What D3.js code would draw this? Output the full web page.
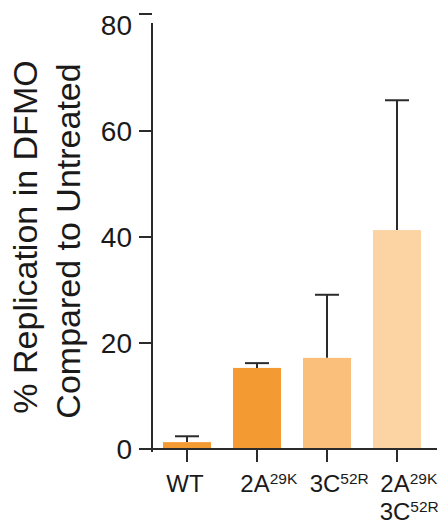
<!DOCTYPE html>
<html><head><meta charset="utf-8">
<script src="https://cdn.jsdelivr.net/npm/d3@7"></script>
<style>
html,body{margin:0;padding:0;background:#fff;}
text{font-family:"Liberation Sans",Arial,sans-serif;fill:#1a1a1a;}
</style></head>
<body>
<svg id="c" width="448" height="525"></svg>
<script>
// data
const categories = ["WT", "2A29K", "3C52R", "2A29K3C52R"];
const labelBase = [["WT"], ["2A"], ["3C"], ["2A", "3C"]];
const labelSup = [[""], ["29K"], ["52R"], ["29K", "52R"]];
const means = [1.3, 15.3, 17.2, 41.3];
const errUpper = [2.4, 16.2, 29.1, 65.8];
const colors = ["#F49A32", "#F49A32", "#FBBF7C", "#FCD3A2"];
const yTicks = [0, 20, 40, 60, 80];
const titleLines = ["% Replication in DFMO", "Compared to Untreated"];

const svg = d3.select("#c");
const axisColor = "#2b2b2b";

const y = d3.scaleLinear().domain([0, 80]).range([449, 25]);
const x = d3.scaleBand().domain(categories).range([152, 432])
  .paddingInner(0.314).paddingOuter(0.157);

// bars
svg.selectAll("rect.bar").data(categories).enter().append("rect")
  .attr("x", d => x(d)).attr("width", x.bandwidth())
  .attr("y", (d, i) => y(means[i]))
  .attr("height", (d, i) => y(0) - y(means[i]))
  .attr("fill", (d, i) => colors[i]);

// error bars
const capW = 24;
const eb = svg.selectAll("g.eb").data(categories).enter().append("g");
eb.append("line")
  .attr("x1", d => x(d) + x.bandwidth() / 2).attr("x2", d => x(d) + x.bandwidth() / 2)
  .attr("y1", (d, i) => y(means[i])).attr("y2", (d, i) => y(errUpper[i]))
  .attr("stroke", axisColor).attr("stroke-width", 2);
eb.append("line")
  .attr("x1", d => x(d) + x.bandwidth() / 2 - capW / 2).attr("x2", d => x(d) + x.bandwidth() / 2 + capW / 2)
  .attr("y1", (d, i) => y(errUpper[i])).attr("y2", (d, i) => y(errUpper[i]))
  .attr("stroke", axisColor).attr("stroke-width", 2);

// y axis
svg.append("line").attr("x1", 152).attr("x2", 152)
  .attr("y1", y(80) - 2).attr("y2", y(0) + 3)
  .attr("stroke", axisColor).attr("stroke-width", 2);
const yt = svg.selectAll("g.yt").data(yTicks).enter().append("g");
yt.append("line")
  .attr("x1", 139).attr("x2", 152)
  .attr("y1", d => d === 80 ? y(d) - 11 : y(d))
  .attr("y2", d => d === 80 ? y(d) - 11 : y(d))
  .attr("stroke", axisColor).attr("stroke-width", 2);
yt.append("text")
  .attr("x", 132).attr("y", d => y(d)).attr("dy", "0.37em")
  .attr("text-anchor", "end").attr("font-size", 28)
  .text(d => d);

// x axis
svg.append("line").attr("x1", 139).attr("x2", 437)
  .attr("y1", y(0)).attr("y2", y(0))
  .attr("stroke", axisColor).attr("stroke-width", 2);
svg.selectAll("line.xt").data(categories).enter().append("line")
  .attr("x1", d => x(d) + x.bandwidth() / 2).attr("x2", d => x(d) + x.bandwidth() / 2)
  .attr("y1", y(0)).attr("y2", y(0) + 13)
  .attr("stroke", axisColor).attr("stroke-width", 2);

// x labels
categories.forEach((c, i) => {
  const cx = x(c) + x.bandwidth() / 2;
  labelBase[i].forEach((b, j) => {
    const t = svg.append("text").attr("font-size", 24)
      .attr("y", 492 + j * 28);
    t.append("tspan").text(b);
    const w = t.node().getComputedTextLength();
    t.attr("x", cx - w / 2 - 2);
    if (labelSup[i][j]) {
      t.append("tspan").attr("font-size", 15.5).attr("dy", -8.5).text(labelSup[i][j]);
    }
  });
});

// y title
const titleX = [37, 80];
const titleY = [237, 241];
titleLines.forEach((s, i) => {
  svg.append("text")
    .attr("transform", `translate(${titleX[i]},${titleY[i]}) rotate(-90)`)
    .attr("text-anchor", "middle").attr("font-size", 34)
    .text(s);
});
</script>
</body></html>
